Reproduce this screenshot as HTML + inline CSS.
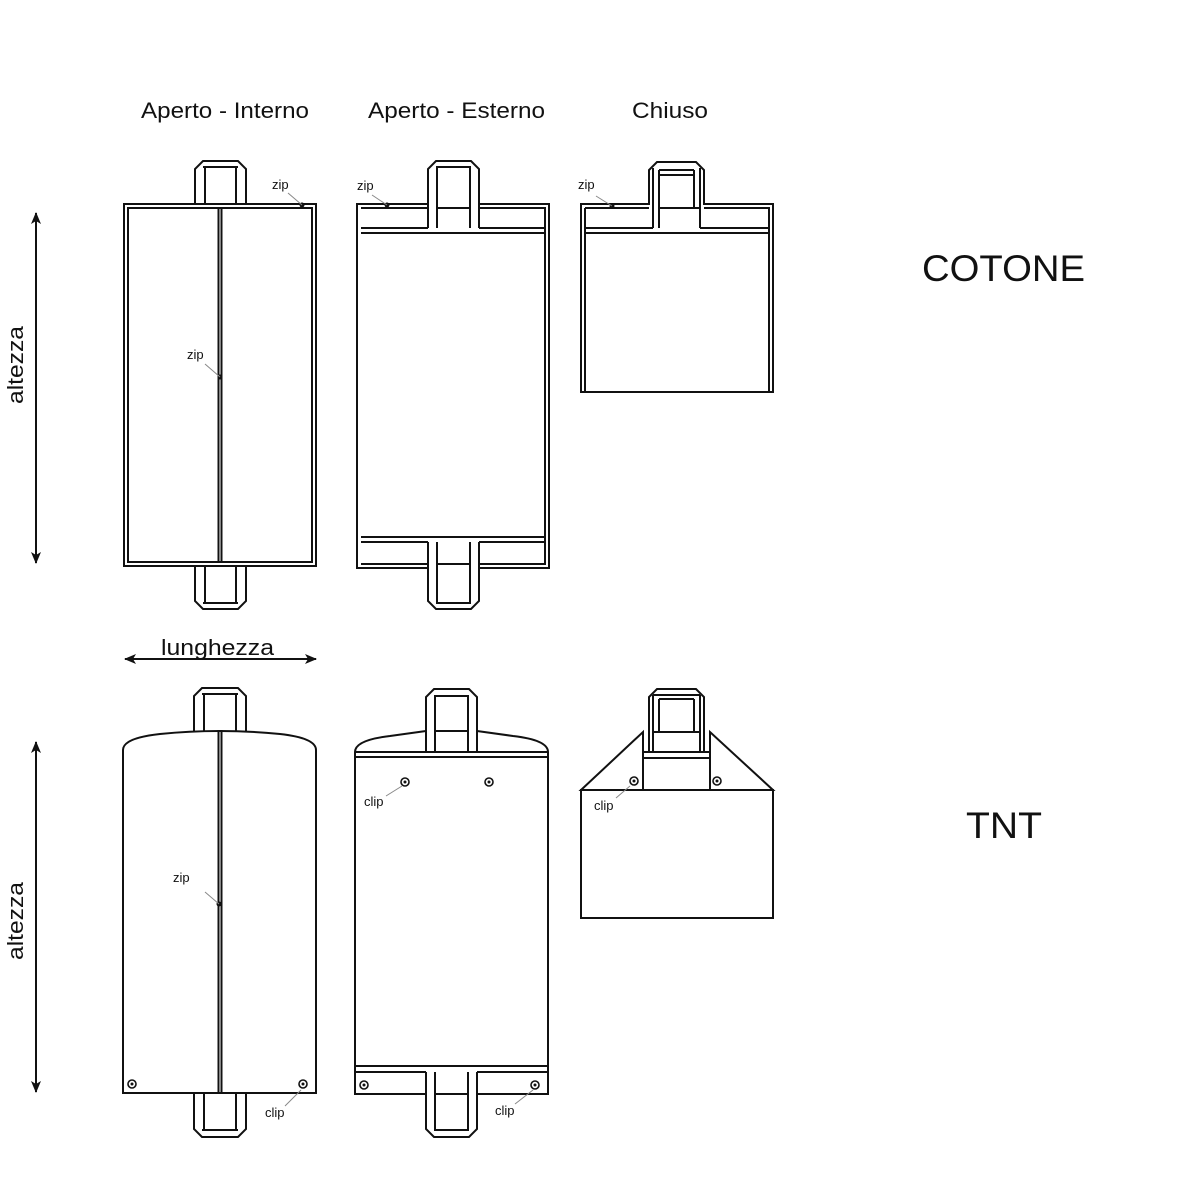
<!DOCTYPE html>
<html><head><meta charset="utf-8"><style>
html,body{margin:0;padding:0;background:#fff;width:1200px;height:1200px;overflow:hidden}
svg text{font-family:"Liberation Sans",sans-serif;fill:#111}
</style></head><body>
<svg width="1200" height="1200" viewBox="0 0 1200 1200" xmlns="http://www.w3.org/2000/svg">
<defs>
<marker id="ah" viewBox="0 0 12 10" refX="11" refY="5" markerWidth="12" markerHeight="10" orient="auto-start-reverse" markerUnits="userSpaceOnUse">
<path d="M0,0 L12,5 L0,10 L3,5 Z" fill="#111" stroke="none"/></marker>
</defs>
<g fill="none" stroke="#111" stroke-width="2">
<!-- ===== COTONE panel 1 ===== -->
<rect x="124" y="204" width="192" height="362"/>
<rect x="128" y="208" width="184" height="354"/>
<line x1="218.5" y1="208" x2="218.5" y2="562"/><line x1="221.5" y1="208" x2="221.5" y2="562"/>
<path d="M195,204 V169 L203,161 H238 L246,169 V204"/>
<line x1="205" y1="167" x2="205" y2="204"/><line x1="236" y1="167" x2="236" y2="204"/><line x1="203" y1="167" x2="238" y2="167"/>
<path d="M195,566 V601 L203,609 H238 L246,601 V566"/>
<line x1="205" y1="566" x2="205" y2="603"/><line x1="236" y1="566" x2="236" y2="603"/><line x1="203" y1="603" x2="238" y2="603"/>
<!-- ===== COTONE panel 2 ===== -->
<path d="M357,204 H428 V169 L436,161 H471 L479,169 V204 H549 V568 H479 V601 L471,609 H436 L428,601 V568 H357 Z"/>
<path d="M361,208 H428 M479,208 H545 V564 H479 M428,564 H361 Z"/>
<line x1="361" y1="228" x2="428" y2="228"/><line x1="479" y1="228" x2="545" y2="228"/>
<line x1="361" y1="233" x2="545" y2="233"/>
<line x1="428" y1="204" x2="428" y2="228"/><line x1="479" y1="204" x2="479" y2="228"/>
<line x1="437" y1="167" x2="437" y2="228"/><line x1="470" y1="167" x2="470" y2="228"/>
<line x1="436" y1="167" x2="471" y2="167"/><line x1="437" y1="208" x2="470" y2="208"/>
<line x1="361" y1="537" x2="545" y2="537"/>
<line x1="361" y1="542" x2="428" y2="542"/><line x1="479" y1="542" x2="545" y2="542"/>
<line x1="428" y1="542" x2="428" y2="568"/><line x1="479" y1="542" x2="479" y2="568"/>
<line x1="437" y1="542" x2="437" y2="603"/><line x1="470" y1="542" x2="470" y2="603"/>
<line x1="436" y1="603" x2="471" y2="603"/><line x1="437" y1="564" x2="470" y2="564"/>
<!-- ===== COTONE panel 3 ===== -->
<path d="M581,204 H649 V170 L657,162 H696 L704,170 V204 H773 V392 H581 Z"/>
<path d="M585,208 H649 M704,208 H769 V392 M585,208 V392"/>
<line x1="585" y1="228" x2="653" y2="228"/><line x1="700" y1="228" x2="769" y2="228"/>
<line x1="585" y1="233" x2="769" y2="233"/>
<line x1="653" y1="168" x2="653" y2="228"/><line x1="700" y1="168" x2="700" y2="228"/>
<line x1="659" y1="170" x2="659" y2="228"/><line x1="694" y1="170" x2="694" y2="208"/>
<line x1="659" y1="170" x2="694" y2="170"/><line x1="659" y1="175" x2="694" y2="175"/>
<line x1="659" y1="208" x2="700" y2="208"/>
<!-- ===== TNT panel 1 ===== -->
<path d="M123,1093 V750 Q123,738 160,734 Q219,728 280,734 Q316,738 316,750 V1093 Z"/>
<line x1="218.5" y1="730" x2="218.5" y2="1093"/><line x1="221.5" y1="730" x2="221.5" y2="1093"/>
<path d="M194,731 V696 L202,688 H238 L246,696 V731"/>
<line x1="204" y1="694" x2="204" y2="731"/><line x1="236" y1="694" x2="236" y2="731"/><line x1="202" y1="694" x2="238" y2="694"/>
<path d="M194,1093 V1129 L202,1137 H238 L246,1129 V1093"/>
<line x1="204" y1="1093" x2="204" y2="1130"/><line x1="236" y1="1093" x2="236" y2="1130"/><line x1="202" y1="1130" x2="238" y2="1130"/>
<!-- ===== TNT panel 2 ===== -->
<path d="M355,752 Q355,740 390,736 L426,731"/>
<path d="M477,731 L513,736 Q548,740 548,752"/>
<path d="M355,752 V1094 H426 M477,1094 H548 V752"/>
<path d="M426,752 V697 L434,689 H469 L477,697 V752"/>
<line x1="435" y1="696" x2="435" y2="752"/><line x1="468" y1="696" x2="468" y2="752"/>
<line x1="434" y1="696" x2="469" y2="696"/><line x1="435" y1="731" x2="468" y2="731"/>
<line x1="355" y1="752" x2="548" y2="752"/><line x1="355" y1="757" x2="548" y2="757"/>
<line x1="355" y1="1066" x2="548" y2="1066"/>
<line x1="355" y1="1072" x2="426" y2="1072"/><line x1="477" y1="1072" x2="548" y2="1072"/>
<path d="M426,1072 V1129 L434,1137 H469 L477,1129 V1072"/>
<line x1="435" y1="1072" x2="435" y2="1130"/><line x1="468" y1="1072" x2="468" y2="1130"/>
<line x1="434" y1="1130" x2="469" y2="1130"/><line x1="435" y1="1094" x2="468" y2="1094"/>
<!-- ===== TNT panel 3 ===== -->
<path d="M581,790 L643,732 V790 Z"/>
<path d="M773,790 L710,732 V790 Z"/>
<rect x="581" y="790" width="192" height="128"/>
<line x1="643" y1="790" x2="643" y2="758"/><line x1="710" y1="790" x2="710" y2="758"/>
<line x1="643" y1="758" x2="710" y2="758"/>
<line x1="643" y1="752" x2="710" y2="752"/>
<path d="M649,752 V697 L657,689 H696 L704,697 V752"/>
<line x1="653" y1="695" x2="653" y2="752"/><line x1="700" y1="695" x2="700" y2="752"/>
<line x1="659" y1="699" x2="659" y2="732"/><line x1="694" y1="699" x2="694" y2="732"/>
<line x1="659" y1="699" x2="694" y2="699"/><line x1="653" y1="695" x2="700" y2="695"/>
<line x1="653" y1="732" x2="700" y2="732"/>
<!-- arrows -->
<line x1="36" y1="213" x2="36" y2="563" marker-start="url(#ah)" marker-end="url(#ah)"/>
<line x1="36" y1="742" x2="36" y2="1092" marker-start="url(#ah)" marker-end="url(#ah)"/>
<line x1="125" y1="659" x2="316" y2="659" marker-start="url(#ah)" marker-end="url(#ah)"/>
</g>
<!-- clips -->
<g fill="none" stroke="#111" stroke-width="1.6">
<circle cx="132" cy="1084" r="4"/><circle cx="303" cy="1084" r="4"/>
<circle cx="405" cy="782" r="4"/><circle cx="489" cy="782" r="4"/>
<circle cx="364" cy="1085" r="4"/><circle cx="535" cy="1085" r="4"/>
<circle cx="634" cy="781" r="4"/><circle cx="717" cy="781" r="4"/>
</g>
<g fill="#111">
<circle cx="132" cy="1084" r="1.5"/><circle cx="303" cy="1084" r="1.5"/>
<circle cx="405" cy="782" r="1.5"/><circle cx="489" cy="782" r="1.5"/>
<circle cx="364" cy="1085" r="1.5"/><circle cx="535" cy="1085" r="1.5"/>
<circle cx="634" cy="781" r="1.5"/><circle cx="717" cy="781" r="1.5"/>
<circle cx="302" cy="205" r="2.5"/><circle cx="387" cy="205" r="2.5"/><circle cx="612" cy="206" r="2.5"/>
<circle cx="220" cy="377" r="2.5"/><circle cx="219" cy="904" r="2.5"/>
</g>
<!-- leader lines -->
<g stroke="#888" stroke-width="1">
<line x1="288" y1="193" x2="302" y2="205"/><line x1="372" y1="195" x2="387" y2="205"/>
<line x1="596" y1="196" x2="612" y2="206"/><line x1="205" y1="364" x2="220" y2="377"/>
<line x1="205" y1="892" x2="219" y2="904"/><line x1="285" y1="1106" x2="301" y2="1090"/>
<line x1="515" y1="1104" x2="533" y2="1090"/><line x1="386" y1="796" x2="402" y2="786"/>
<line x1="616" y1="798" x2="630" y2="786"/>
</g>
<!-- text -->
<text x="141" y="118" font-size="22" textLength="168" lengthAdjust="spacingAndGlyphs">Aperto - Interno</text>
<text x="368" y="118" font-size="22" textLength="177" lengthAdjust="spacingAndGlyphs">Aperto - Esterno</text>
<text x="632" y="118" font-size="22" textLength="76" lengthAdjust="spacingAndGlyphs">Chiuso</text>
<text x="922" y="281" font-size="37" textLength="163" lengthAdjust="spacingAndGlyphs">COTONE</text>
<text x="966" y="838" font-size="37" textLength="76" lengthAdjust="spacingAndGlyphs">TNT</text>
<text x="161" y="655" font-size="22" textLength="113" lengthAdjust="spacingAndGlyphs">lunghezza</text>
<text transform="translate(23,404) rotate(-90)" font-size="22" textLength="78" lengthAdjust="spacingAndGlyphs">altezza</text>
<text transform="translate(23,960) rotate(-90)" font-size="22" textLength="78" lengthAdjust="spacingAndGlyphs">altezza</text>
<g font-size="13">
<text x="272" y="189">zip</text><text x="357" y="190">zip</text><text x="578" y="189">zip</text>
<text x="187" y="359">zip</text><text x="173" y="882">zip</text>
<text x="364" y="806">clip</text><text x="594" y="810">clip</text>
<text x="265" y="1117">clip</text><text x="495" y="1115">clip</text>
</g>
</svg>
</body></html>
